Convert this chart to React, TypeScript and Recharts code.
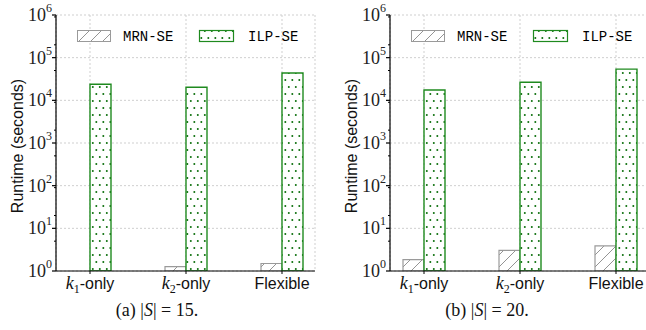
import React from "react";
import {
  BarChart,
  Bar,
  XAxis,
  YAxis,
  CartesianGrid,
  ReferenceArea,
} from "recharts";

const categories = ["k1-only", "k2-only", "Flexible"];
const mrnA = [null, 1.26, 1.5];
const ilpA = [23800, 20200, 43700];
const mrnB = [1.84, 3.06, 3.86];
const ilpB = [17400, 26500, 54000];
const majorTicks = [1, 10, 100, 1000, 10000, 100000, 1000000];
const minorTicks = [0, 1, 2, 3, 4, 5].flatMap((e) =>
  [2, 3, 4, 5, 6, 7, 8, 9].map((m) => m * Math.pow(10, e))
);

const SERIF = "'Liberation Serif', 'DejaVu Serif', serif";
const SANS = "'Liberation Sans', Arial, sans-serif";
const MONO = "'Liberation Mono', 'DejaVu Sans Mono', monospace";
const GREEN = "#1f8a1f";
const GREY = "#9a9a9a";

function Patterns() {
  return (
    <svg width={0} height={0} style={{ position: "absolute" }}>
      <defs>
        <pattern id="hatch" patternUnits="userSpaceOnUse" width={12} height={12}>
          <rect width={12} height={12} fill="#fff" />
          <line x1={0} y1={12} x2={12} y2={0} stroke="#888" strokeWidth={0.9} />
          <line x1={-3} y1={3} x2={3} y2={-3} stroke="#888" strokeWidth={0.9} />
          <line x1={9} y1={15} x2={15} y2={9} stroke="#888" strokeWidth={0.9} />
        </pattern>
        <pattern id="dots" patternUnits="userSpaceOnUse" width={7} height={14}>
          <rect width={7} height={14} fill="#fff" />
          <circle cx={1.8} cy={3} r={1} fill="#0a6e0a" />
          <circle cx={5.3} cy={10} r={1} fill="#0a6e0a" />
        </pattern>
      </defs>
    </svg>
  );
}

function YTick(props: any) {
  const { x, y, payload } = props;
  const exp = Math.round(Math.log10(payload.value));
  return (
    <text x={x} y={y + 6} textAnchor="end" fontFamily={SERIF} fontSize={18} fill="#222">
      10
      <tspan dy={-9} fontSize={12}>
        {exp}
      </tspan>
    </text>
  );
}

function XTick(props: any) {
  const { x, y, payload } = props;
  const v: string = payload.value;
  if (v === "Flexible") {
    return (
      <text x={x} y={y + 13} textAnchor="middle" fontFamily={SANS} fontSize={16} fill="#111">
        Flexible
      </text>
    );
  }
  const sub = v === "k1-only" ? "1" : "2";
  return (
    <text x={x} y={y + 13} textAnchor="middle" fontFamily={SANS} fontSize={16} fill="#111">
      <tspan fontFamily={SERIF} fontStyle="italic" fontSize={18}>
        k
      </tspan>
      <tspan dy={4} fontFamily={SERIF} fontSize={12}>
        {sub}
      </tspan>
      <tspan dy={-4}>-only</tspan>
    </text>
  );
}

function YLabel() {
  return (
    <text
      x={17}
      y={146}
      transform="rotate(-90 17 146)"
      textAnchor="middle"
      dominantBaseline="central"
      fontFamily={SANS}
      fontSize={16}
      fill="#111"
    >
      Runtime (seconds)
    </text>
  );
}

function Panel({ mrn, ilp, left }: { mrn: (number | null)[]; ilp: number[]; left: number }) {
  const data = categories.map((c, i) => ({ cat: c, mrn: mrn[i], ilp: ilp[i] }));
  return (
    <div style={{ position: "absolute", left, top: 0, width: 330, height: 301 }}>
      <BarChart
        width={330}
        height={301}
        data={data}
        margin={{ top: 15, right: 15, left: 0, bottom: 0 }}
        barGap={0}
        barSize={21}
      >
        <CartesianGrid yAxisId="main" stroke="#cfcfcf" strokeDasharray="2 2" />
        <XAxis
          dataKey="cat"
          height={30}
          padding={{ left: -14, right: -15 }}
          tick={<XTick />}
          tickSize={3}
          tickMargin={2}
          stroke="#000"
          interval={0}
        />
        <YAxis
          yAxisId="main"
          width={56}
          scale="log"
          domain={[1, 1000000]}
          ticks={majorTicks}
          allowDataOverflow
          tick={<YTick />}
          tickSize={4}
          tickMargin={0}
          stroke="#000"
          strokeWidth={1.2}
          label={<YLabel />}
        />
        <YAxis
          yAxisId="minor"
          mirror
          scale="log"
          domain={[1, 1000000]}
          ticks={minorTicks}
          allowDataOverflow
          tick={() => <g />}
          axisLine={false}
          tickSize={-2}
          stroke="#000"
        />
        <Bar
          yAxisId="main"
          dataKey="mrn"
          fill="url(#hatch)"
          stroke={GREY}
          strokeWidth={1.2}
          isAnimationActive={false}
        />
        <Bar
          yAxisId="main"
          dataKey="ilp"
          fill="url(#dots)"
          stroke={GREEN}
          strokeWidth={1.4}
          isAnimationActive={false}
        />
        <ReferenceArea yAxisId="main" fill="none" stroke="#000" strokeWidth={1.2} ifOverflow="visible" />
      </BarChart>
      <svg
        width={330}
        height={60}
        style={{ position: "absolute", left: 0, top: 0, pointerEvents: "none" }}
      >
        <rect x={77.5} y={30.5} width={33} height={11} fill="url(#hatch)" stroke={GREY} strokeWidth={1} />
        <text x={123} y={41} fontFamily={MONO} fontSize={14} fill="#000">
          MRN-SE
        </text>
        <rect x={199.5} y={30.5} width={34} height={11} fill="url(#dots)" stroke={GREEN} strokeWidth={1.2} />
        <text x={248} y={41} fontFamily={MONO} fontSize={14} fill="#000">
          ILP-SE
        </text>
      </svg>
    </div>
  );
}

function Caption({ x, tag, n }: { x: number; tag: string; n: string }) {
  return (
    <text x={x} y={316} textAnchor="middle" fontFamily={SERIF} fontSize={18} fill="#111">
      {`(${tag}) |`}
      <tspan fontStyle="italic">S</tspan>
      {`| = ${n}.`}
    </text>
  );
}

export default function App() {
  return (
    <div
      style={{
        position: "absolute",
        left: 0,
        top: 0,
        width: 646,
        height: 330,
        overflow: "hidden",
        background: "#fff",
      }}
    >
      <Patterns />
      <Panel mrn={mrnA} ilp={ilpA} left={0} />
      <Panel mrn={mrnB} ilp={ilpB} left={334} />
      <svg width={646} height={330} style={{ position: "absolute", left: 0, top: 0, pointerEvents: "none" }}>
        <Caption x={157} tag="a" n="15" />
        <Caption x={487} tag="b" n="20" />
      </svg>
    </div>
  );
}
